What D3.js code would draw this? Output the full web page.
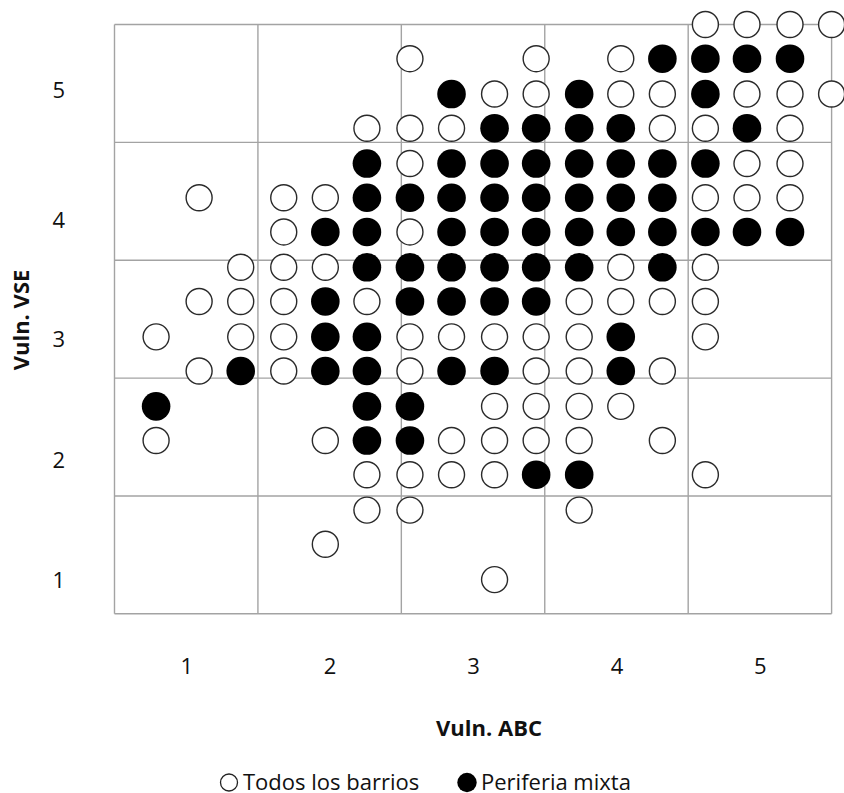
<!DOCTYPE html>
<html>
<head>
<meta charset="utf-8">
<script src="https://cdn.jsdelivr.net/npm/d3@7"></script>
<style>
  html, body { margin: 0; padding: 0; background: #fff; }
  svg { display: block; font-family: "Open Sans", "Noto Sans", sans-serif; }
</style>
</head>
<body>
<svg id="chart" width="844" height="793"></svg>
<script>
// ---- data (Vuln. ABC = x, Vuln. VSE = y) ----
const todosPoints = [
  [4.12,5.00],[4.41,5.00],[4.71,5.00],[5.00,5.00],
  [2.06,4.71],[2.94,4.71],[3.53,4.71],
  [2.65,4.41],[2.94,4.41],[3.53,4.41],[3.82,4.41],[4.41,4.41],[4.71,4.41],[5.00,4.41],
  [1.76,4.12],[2.06,4.12],[2.35,4.12],[3.82,4.12],[4.12,4.12],[4.71,4.12],
  [2.06,3.82],[4.41,3.82],[4.71,3.82],
  [0.59,3.53],[1.18,3.53],[1.47,3.53],[4.12,3.53],[4.41,3.53],[4.71,3.53],
  [1.18,3.24],[2.06,3.24],
  [0.88,2.94],[1.18,2.94],[1.47,2.94],[3.53,2.94],[4.12,2.94],
  [0.59,2.65],[0.88,2.65],[1.18,2.65],[1.76,2.65],[3.24,2.65],[3.53,2.65],[3.82,2.65],[4.12,2.65],
  [0.29,2.35],[0.88,2.35],[1.18,2.35],[2.06,2.35],[2.35,2.35],[2.65,2.35],[2.94,2.35],[3.24,2.35],[4.12,2.35],
  [0.59,2.06],[1.18,2.06],[2.06,2.06],[2.94,2.06],[3.24,2.06],[3.82,2.06],
  [2.65,1.76],[2.94,1.76],[3.24,1.76],[3.53,1.76],
  [0.29,1.47],[1.47,1.47],[2.35,1.47],[2.65,1.47],[2.94,1.47],[3.24,1.47],[3.82,1.47],
  [1.76,1.18],[2.06,1.18],[2.35,1.18],[2.65,1.18],[4.12,1.18],
  [1.76,0.88],[2.06,0.88],[3.24,0.88],
  [1.47,0.59],
  [2.65,0.29]
];
const periferiaPoints = [
  [3.82,4.71],[4.12,4.71],[4.41,4.71],[4.71,4.71],
  [2.35,4.41],[3.24,4.41],[4.12,4.41],
  [2.65,4.12],[2.94,4.12],[3.24,4.12],[3.53,4.12],[4.41,4.12],
  [1.76,3.82],[2.35,3.82],[2.65,3.82],[2.94,3.82],[3.24,3.82],[3.53,3.82],[3.82,3.82],[4.12,3.82],
  [1.76,3.53],[2.06,3.53],[2.35,3.53],[2.65,3.53],[2.94,3.53],[3.24,3.53],[3.53,3.53],[3.82,3.53],
  [1.47,3.24],[1.76,3.24],[2.35,3.24],[2.65,3.24],[2.94,3.24],[3.24,3.24],[3.53,3.24],[3.82,3.24],[4.12,3.24],[4.41,3.24],[4.71,3.24],
  [1.76,2.94],[2.06,2.94],[2.35,2.94],[2.65,2.94],[2.94,2.94],[3.24,2.94],[3.82,2.94],
  [1.47,2.65],[2.06,2.65],[2.35,2.65],[2.65,2.65],[2.94,2.65],
  [1.47,2.35],[1.76,2.35],[3.53,2.35],
  [0.88,2.06],[1.47,2.06],[1.76,2.06],[2.35,2.06],[2.65,2.06],[3.53,2.06],
  [0.29,1.76],[1.76,1.76],[2.06,1.76],
  [1.76,1.47],[2.06,1.47],
  [2.94,1.18],[3.24,1.18]
];
const gridValues = [0, 1, 2, 3, 4, 5];
const xTickValues = [0.5, 1.5, 2.5, 3.5, 4.5];
const xTickLabels = ["1", "2", "3", "4", "5"];
const yTickValues = [4.44, 3.34, 2.33, 1.30, 0.28];
const yTickLabels = ["5", "4", "3", "2", "1"];
const xTitle = "Vuln. ABC";
const yTitle = "Vuln. VSE";
const legendLabels = ["Todos los barrios", "Periferia mixta"];

// ---- layout ----
const svg = d3.select("#chart");
const plotL = 114.5, plotR = 831.6, plotT = 24.5, plotB = 613.8;
const x = d3.scaleLinear().domain([0, 5]).range([plotL, plotR]);
const y = d3.scaleLinear().domain([0, 5]).range([plotB, plotT]);

const gridColor = "#a3a3a3";
const textColor = "#111";

// gridlines
const grid = svg.append("g");
grid.selectAll("line.v").data(gridValues).join("line").attr("class", "v")
  .attr("x1", d => x(d)).attr("x2", d => x(d))
  .attr("y1", y(0)).attr("y2", y(5))
  .attr("stroke", gridColor).attr("stroke-width", 1.4);
grid.selectAll("line.h").data(gridValues).join("line").attr("class", "h")
  .attr("y1", d => y(d)).attr("y2", d => y(d))
  .attr("x1", x(0)).attr("x2", x(5))
  .attr("stroke", gridColor).attr("stroke-width", 1.4);

// axes (labels only)
const xAxis = d3.axisBottom(x).tickValues(xTickValues)
  .tickFormat((d, i) => xTickLabels[i]).tickSize(0).tickPadding(44.5);
const gx = svg.append("g").attr("transform", `translate(0,${plotB})`).call(xAxis);
gx.select(".domain").remove();
gx.selectAll("text").attr("font-size", 22).attr("fill", textColor)
  .attr("font-family", '"Open Sans", sans-serif');

const yAxis = d3.axisLeft(y).tickValues(yTickValues)
  .tickFormat((d, i) => yTickLabels[i]).tickSize(0).tickPadding(49.5);
const gy = svg.append("g").attr("transform", `translate(${plotL},0)`).call(yAxis);
gy.select(".domain").remove();
gy.selectAll("text").attr("font-size", 22).attr("fill", textColor)
  .attr("font-family", '"Open Sans", sans-serif');

// points
svg.append("g").selectAll("circle").data(todosPoints).join("circle")
  .attr("cx", d => x(d[0])).attr("cy", d => y(d[1]))
  .attr("r", 13).attr("fill", "#fff")
  .attr("stroke", "#2a2a2a").attr("stroke-width", 1.4);
svg.append("g").selectAll("circle").data(periferiaPoints).join("circle")
  .attr("cx", d => x(d[0])).attr("cy", d => y(d[1]))
  .attr("r", 14.3).attr("fill", "#000");

// axis titles
svg.append("text").attr("x", 489).attr("y", 736)
  .attr("text-anchor", "middle").attr("font-size", 22).attr("font-weight", "bold")
  .attr("fill", textColor).text(xTitle);
svg.append("text").attr("transform", "translate(29,320) rotate(-90)")
  .attr("text-anchor", "middle").attr("font-size", 22).attr("font-weight", "bold")
  .attr("fill", textColor).text(yTitle);

// legend
const lg = svg.append("g");
lg.append("circle").attr("cx", 229).attr("cy", 782.5).attr("r", 8.5)
  .attr("fill", "#fff").attr("stroke", "#222").attr("stroke-width", 1.3);
lg.append("text").attr("x", 243).attr("y", 790).attr("font-size", 22)
  .attr("fill", textColor).text(legendLabels[0]);
lg.append("circle").attr("cx", 467).attr("cy", 782.5).attr("r", 9.7)
  .attr("fill", "#000");
lg.append("text").attr("x", 481).attr("y", 790).attr("font-size", 22)
  .attr("fill", textColor).text(legendLabels[1]);
</script>
</body>
</html>
